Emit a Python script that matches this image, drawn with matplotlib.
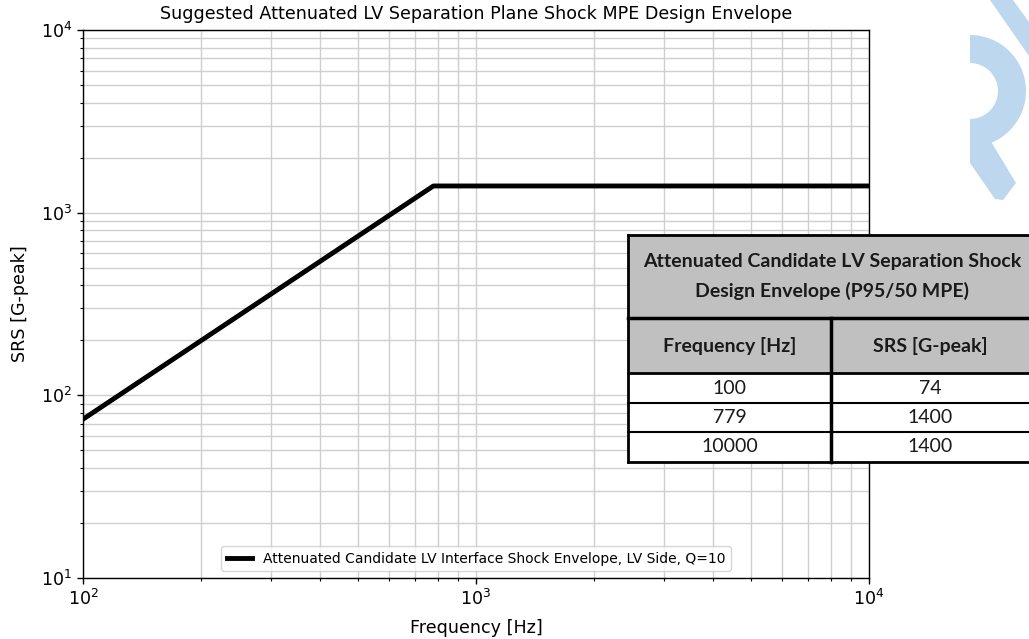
import matplotlib
matplotlib.use('Agg')
import matplotlib.pyplot as plt
from matplotlib.patches import Rectangle, Polygon, Wedge

# envelope breakpoints
freq = [100, 779, 10000]
srs = [74, 1400, 1400]

title = 'Suggested Attenuated LV Separation Plane Shock MPE Design Envelope'
line_label = 'Attenuated Candidate LV Interface Shock Envelope, LV Side, Q=10'
table_title = ['Attenuated Candidate LV Separation Shock', 'Design Envelope (P95/50 MPE)']
table_cols = ['Frequency [Hz]', 'SRS [G-peak]']

fig = plt.figure(figsize=(10.29, 6.39), dpi=100)
ax = fig.add_axes([83/1029, 1 - 578/639, (869-83)/1029, (578-30)/639])

ax.loglog(freq, srs, color='black', lw=3.5, label=line_label)
ax.set_xlim(100, 10000)
ax.set_ylim(10, 10000)
ax.grid(True, which='both', color='#cfcfcf', lw=1.0)
ax.set_xlabel('Frequency [Hz]', fontsize=12.6, labelpad=7)
ax.set_ylabel('SRS [G-peak]', fontsize=12.6, labelpad=8)
ax.set_title(title, fontsize=12.6, pad=8)
ax.tick_params(which='major', labelsize=12.6, length=4.4, width=1.0)
ax.tick_params(which='minor', length=2.5, width=0.8)
for s in ax.spines.values():
    s.set_linewidth(1.0)
ax.legend(loc='lower center', fontsize=10, handlelength=1.8)

# overlay in pixel coordinates for the pasted table and the watermark
ov = fig.add_axes([0, 0, 1, 1])
ov.set_xlim(0, 1029)
ov.set_ylim(639, 0)
ov.axis('off')

blue = '#bdd7ee'
ov.add_patch(Polygon([(990, 0), (1013, 0), (1029, 22), (1029, 56)], closed=True, color=blue, lw=0))
ov.add_patch(Wedge((970, 91), 56, -90, 90, width=28, color=blue, lw=0))
ov.add_patch(Polygon([(970, 125), (990, 140), (1016, 183), (1003, 200), (995, 199), (970, 163)],
                     closed=True, color=blue, lw=0))

x0, x1, xm = 628, 1035, 831
y_top, y_h1, y_h2 = 235, 318, 373
ov.add_patch(Rectangle((x0, y_top), x1 - x0, y_h2 - y_top, facecolor='#c0c0c0', edgecolor='none'))
row_edges = [y_h2, 403, 432, 462]
ov.add_patch(Rectangle((x0, y_h2), x1 - x0, row_edges[-1] - y_h2, facecolor='white', edgecolor='none'))
ov.plot([x0, x1], [y_top, y_top], color='black', lw=2)
ov.plot([x0, x1], [y_h1, y_h1], color='black', lw=2.5)
ov.plot([x0, x1], [y_h2, y_h2], color='black', lw=2)
for y in row_edges[1:]:
    ov.plot([x0, x1], [y, y], color='black', lw=1.5 if y != row_edges[-1] else 2)
ov.plot([x0, x0], [y_top, row_edges[-1]], color='black', lw=2)
ov.plot([xm, xm], [y_h1, row_edges[-1]], color='black', lw=2.5)

tf = dict(family=['Lato', 'DejaVu Sans'], color='#1a1a1a', fontsize=14)
ov.text(832, 262, table_title[0], ha='center', va='center', weight='bold', **tf)
ov.text(832, 291, table_title[1], ha='center', va='center', weight='bold', **tf)
ov.text((x0 + xm) / 2, 346, table_cols[0], ha='center', va='center', weight='bold', **tf)
ov.text((xm + 1029) / 2, 346, table_cols[1], ha='center', va='center', weight='bold', **tf)
for i in range(len(freq)):
    yc = (row_edges[i] + row_edges[i + 1]) / 2
    ov.text((x0 + xm) / 2, yc, str(freq[i]), ha='center', va='center', **tf)
    ov.text((xm + 1029) / 2, yc, str(srs[i]), ha='center', va='center', **tf)

fig.savefig('out.png', dpi=100)
